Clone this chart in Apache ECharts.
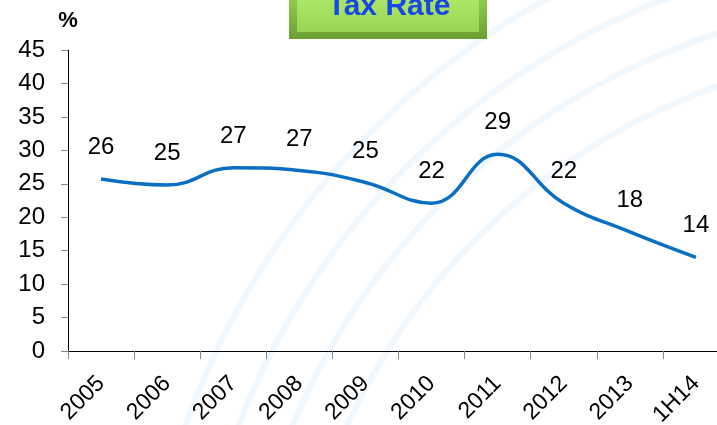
<!DOCTYPE html>
<html>
<head>
<meta charset="utf-8">
<script src="https://cdn.jsdelivr.net/npm/echarts@6/dist/echarts.min.js"></script>
<style>
  html, body { margin: 0; padding: 0; background: #fff; }
  #chart { width: 717px; height: 425px; }
</style>
</head>
<body>
<div id="chart"></div>
<script>
// data
var years = ['2005', '2006', '2007', '2008', '2009', '2010', '2011', '2012', '2013', '1H14'];
var taxRate = [25.7, 24.8, 27.4, 27.0, 25.2, 22.1, 29.4, 22.1, 17.8, 14.0];
var titleText = 'Tax Rate';

var myChart = echarts.init(document.getElementById('chart'), null, { renderer: 'canvas' });

// faint swirl in the background
var swirl = [];
[640, 690, 740, 790].forEach(function (r) {
  swirl.push({
    type: 'circle',
    silent: true,
    z: -10,
    shape: { cx: 930, cy: 690, r: r },
    style: { fill: null, stroke: 'rgba(205,230,250,0.3)', lineWidth: 6 }
  });
});

var option = {
  backgroundColor: '#fff',
  animation: false,
  // the x axis runs past the right edge, as in the original
  grid: { left: 68, top: 50, width: 661, height: 301, containLabel: false, outerBoundsMode: 'none' },
  graphic: swirl.concat([
    {
      type: 'rect',
      z: 50,
      shape: { x: 289, y: -10, width: 198, height: 49 },
      style: {
        fill: new echarts.graphic.LinearGradient(0, 0, 0, 1, [
          { offset: 0, color: '#9ad555' },
          { offset: 1, color: '#6a9f32' }
        ])
      }
    },
    {
      type: 'rect',
      z: 51,
      shape: { x: 297, y: -10, width: 182, height: 42 },
      style: {
        fill: new echarts.graphic.LinearGradient(0, 0, 0, 1, [
          { offset: 0, color: '#b0ea6c' },
          { offset: 1, color: '#9ad655' }
        ])
      }
    },
    {
      type: 'text',
      z: 52,
      style: {
        text: titleText,
        x: 389,
        y: 22,
        align: 'center',
        verticalAlign: 'bottom',
        font: 'bold 30px "Liberation Sans", Arial, sans-serif',
        fill: '#1748e6'
      }
    }
  ]),
  xAxis: {
    type: 'category',
    data: years,
    boundaryGap: true,
    axisLine: { lineStyle: { color: '#000', width: 1 } },
    axisTick: { show: true, length: 8, lineStyle: { color: '#888' } },
    axisLabel: {
      rotate: 45,
      margin: 29,
      fontSize: 23,
      color: '#000',
      fontFamily: '"Liberation Sans", Arial, sans-serif'
    }
  },
  yAxis: {
    type: 'value',
    min: 0,
    max: 45,
    interval: 5,
    name: '%',
    nameLocation: 'end',
    nameGap: 18,
    nameTextStyle: {
      fontSize: 22,
      fontWeight: 'bold',
      color: '#000',
      fontFamily: '"Liberation Sans", Arial, sans-serif'
    },
    splitLine: { show: false },
    axisLine: { show: true, lineStyle: { color: '#000', width: 1 } },
    axisTick: { show: true, length: 7, lineStyle: { color: '#888' } },
    axisLabel: {
      margin: 23,
      fontSize: 24,
      color: '#000',
      fontFamily: '"Liberation Sans", Arial, sans-serif'
    }
  },
  series: [
    {
      type: 'line',
      data: taxRate,
      smooth: 0.45,
      symbol: 'circle',
      symbolSize: 1,
      showSymbol: true,
      itemStyle: { color: 'rgba(0,0,0,0)' },
      lineStyle: { color: '#0a6fc2', width: 3.5 },
      label: {
        show: true,
        position: 'top',
        distance: 19,
        fontSize: 24,
        color: '#000',
        fontFamily: '"Liberation Sans", Arial, sans-serif',
        formatter: function (p) { return Math.round(p.value); }
      }
    }
  ]
};

myChart.setOption(option);
</script>
</body>
</html>
